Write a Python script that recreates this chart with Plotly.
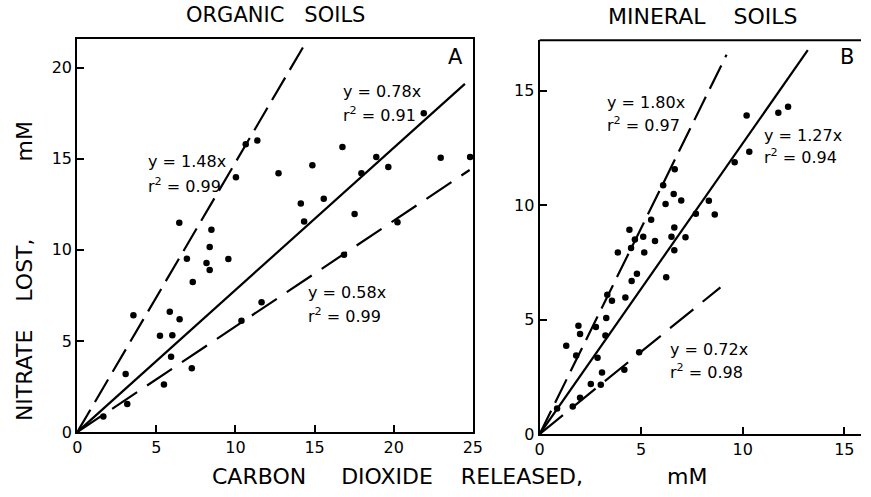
import plotly.graph_objects as go

# ---------------- DATA ----------------
# Panel A: organic soils (CO2 released mM, nitrate lost mM)
org_x = [1.65, 3.16, 3.06, 3.55, 5.48, 5.23, 6.01, 5.93, 5.85, 6.47, 7.24, 7.30,
         6.45, 6.93, 8.48, 8.37, 8.17, 9.55, 8.37, 10.03, 10.65, 11.38, 10.38, 11.65,
         12.72, 14.86, 14.13, 14.34, 15.58, 16.76, 16.86, 17.53, 17.96, 18.9, 19.66,
         20.24, 21.9, 22.97, 24.83]
org_y = [0.86, 1.54, 3.19, 6.41, 2.62, 5.29, 5.31, 4.14, 6.6, 6.2, 3.51, 8.24,
         11.49, 9.52, 11.11, 10.16, 9.28, 9.5, 8.89, 13.98, 15.8, 16.0, 6.11, 7.13,
         14.21, 14.64, 12.54, 11.56, 12.81, 15.65, 9.73, 11.97, 14.21, 15.1, 14.55,
         11.52, 17.5, 15.05, 15.09]

# Panel B: mineral soils
min_x = [10.19, 10.32, 9.6, 6.65, 6.08, 6.6, 6.97, 6.2, 8.33, 7.69, 8.62, 5.49,
         4.42, 6.63, 5.1, 4.69, 5.68, 6.49, 7.18, 4.5, 3.85, 5.15, 6.63, 4.79, 4.53,
         6.23, 12.23, 11.75, 3.33, 3.56, 4.22, 3.28, 1.91, 1.99, 2.77, 1.31, 3.24,
         1.8, 2.85, 4.9, 3.07, 2.52, 3.01, 4.17, 1.99, 1.63, 0.86]
min_y = [13.91, 12.33, 11.87, 11.56, 10.87, 10.48, 10.2, 10.05, 10.19, 9.62, 9.59, 9.36,
         8.92, 9.02, 8.62, 8.5, 8.43, 8.62, 8.6, 8.13, 7.93, 7.93, 8.03, 7.0, 6.68,
         6.85, 14.29, 14.03, 6.08, 5.82, 5.96, 5.07, 4.73, 4.37, 4.68, 3.86, 4.3,
         3.43, 3.33, 3.57, 2.69, 2.19, 2.15, 2.81, 1.59, 1.2, 1.12]

# Regression lines: slope, end of drawn line (x)
org_slopes = [1.48, 0.78, 0.58]
org_xend = [14.3, 24.5, 24.8]
org_r2 = [0.99, 0.91, 0.99]
min_slopes = [1.80, 1.27, 0.72]
min_xend = [9.2, 13.2, 8.9]
min_r2 = [0.97, 0.94, 0.98]
line_dash = ["26px,9px", "solid", "30px,12px"]

x_ticks_a = [0, 5, 10, 15, 20, 25]
y_ticks_a = [0, 5, 10, 15, 20]
x_ticks_b = [0, 5, 10, 15]
y_ticks_b = [0, 5, 10, 15]

# ---------------- FIGURE ----------------
W, H = 871, 497
def px(x):
    return x / W
def py(y):
    return 1 - y / H

FONT = "DejaVu Sans"
fig = go.Figure()

for s, xe, d in zip(org_slopes, org_xend, line_dash):
    fig.add_trace(go.Scatter(x=[0, xe], y=[0, s * xe], mode="lines",
                             line=dict(color="black", width=2.2, dash=d),
                             xaxis="x", yaxis="y", showlegend=False))
for s, xe, d in zip(min_slopes, min_xend, line_dash):
    fig.add_trace(go.Scatter(x=[0, xe], y=[0, s * xe], mode="lines",
                             line=dict(color="black", width=2.2, dash=d),
                             xaxis="x2", yaxis="y2", showlegend=False))

fig.add_trace(go.Scatter(x=org_x, y=org_y, mode="markers",
                         marker=dict(color="black", size=6.5),
                         xaxis="x", yaxis="y", showlegend=False, cliponaxis=False))
fig.add_trace(go.Scatter(x=min_x, y=min_y, mode="markers",
                         marker=dict(color="black", size=6.5),
                         xaxis="x2", yaxis="y2", showlegend=False, cliponaxis=False))

ax_common = dict(showgrid=False, zeroline=False, ticks="inside", ticklen=7,
                 tickwidth=1.5, tickcolor="black", linecolor="black", linewidth=2,
                 showline=True, tickfont=dict(family=FONT, size=16, color="black"))

fig.update_layout(
    width=W, height=H,
    margin=dict(l=0, r=0, t=0, b=0),
    paper_bgcolor="white", plot_bgcolor="white",
    xaxis=dict(domain=[px(73.5), px(476)], range=[0, 25.0], tickvals=x_ticks_a,
               anchor="y", mirror=True, **ax_common),
    yaxis=dict(domain=[py(441), py(40)], range=[0, 21.56], tickvals=y_ticks_a,
               anchor="x", mirror=True, **ax_common),
    xaxis2=dict(domain=[px(544), 1.0], range=[0, 15.82], tickvals=x_ticks_b,
                anchor="y2", **ax_common),
    yaxis2=dict(domain=[py(443), py(41)], range=[0, 17.2], tickvals=y_ticks_b,
                anchor="x2", **ax_common),
)

# top border of panel B
fig.add_shape(type="line", xref="paper", yref="paper",
              x0=px(544), x1=1.0, y0=py(41), y1=py(41),
              line=dict(color="black", width=2))

ann = []
def text(x, y, t, size=15, xanchor="left", angle=0):
    ann.append(dict(x=px(x), y=py(y), xref="paper", yref="paper", text=t,
                    showarrow=False, xanchor=xanchor, yanchor="middle",
                    textangle=angle,
                    font=dict(family=FONT, size=size, color="black")))

# panel titles
text(275, 15, "ORGANIC   SOILS", size=21, xanchor="center")
text(710, 17, "MINERAL    SOILS", size=22, xanchor="center")
text(458, 58, "A", size=21, xanchor="center")
text(857, 58, "B", size=21, xanchor="center")

# equations panel A
eq_pos_a = [(143, 165), (342, 93), (306, 298)]
for (x, y), s, r in zip(eq_pos_a, org_slopes, org_r2):
    text(x, y, f"y = {s:.2f}x", size=16)
    text(x, y + 24, f"r<sup>2</sup> = {r:.2f}", size=16)
# equations panel B
eq_pos_b = [(611, 105), (770, 138), (675, 357)]
for (x, y), s, r in zip(eq_pos_b, min_slopes, min_r2):
    text(x, y, f"y = {s:.2f}x", size=16)
    text(x, y + 22, f"r<sup>2</sup> = {r:.2f}", size=16)

# axis titles
text(20, 277, "NITRATE    LOST,           mM", size=22, xanchor="center", angle=-90)
text(462, 486, "CARBON     DIOXIDE    RELEASED,            mM", size=22, xanchor="center")

fig.update_layout(annotations=ann)
fig.write_html("out.html")
